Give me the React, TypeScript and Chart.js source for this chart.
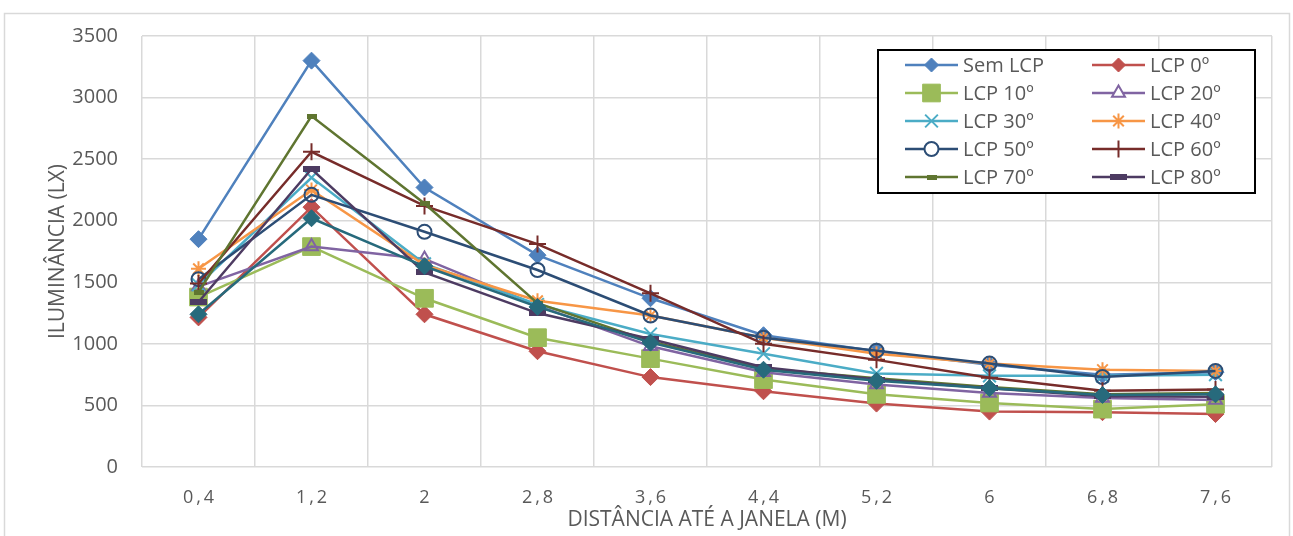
import React, { useEffect, useRef } from "react";
import { Chart, registerables } from "chart.js";
import { drawPoint } from "chart.js/helpers";

Chart.register(...registerables);

const categories = ["0,4", "1,2", "2", "2,8", "3,6", "4,4", "5,2", "6", "6,8", "7,6"];

const semLCP = [1850, 3300, 2270, 1720, 1370, 1070, 940, 830, 750, 770];
const lcp0 = [1215, 2110, 1240, 940, 730, 615, 515, 450, 445, 430];
const lcp10 = [1380, 1790, 1370, 1050, 880, 710, 590, 520, 470, 510];
const lcp20 = [1465, 1790, 1690, 1310, 980, 770, 670, 600, 560, 545];
const lcp30 = [1480, 2350, 1650, 1320, 1080, 920, 760, 740, 740, 750];
const lcp40 = [1610, 2250, 1640, 1350, 1230, 1050, 920, 840, 790, 780];
const lcp50 = [1525, 2210, 1910, 1600, 1230, 1050, 945, 840, 730, 780];
const lcp60 = [1490, 2560, 2120, 1810, 1410, 1000, 870, 725, 620, 630];
const lcp70 = [1420, 2850, 2140, 1330, 1020, 800, 720, 650, 590, 600];
const lcp80 = [1340, 2420, 1580, 1250, 1040, 810, 710, 640, 575, 570];
const lcp90 = [1240, 2020, 1630, 1300, 1010, 790, 700, 640, 585, 590];

const yTitle = "ILUMINÂNCIA (LX)";
const xTitle = "DISTÂNCIA ATÉ A JANELA (M)";
const FONT = "'Open Sans', sans-serif";
const TEXT = "#595959";
const GRID = "#D9D9D9";

function makeBar(w: number, h: number, color: string) {
  const c = document.createElement("canvas");
  c.width = w;
  c.height = h;
  const g = c.getContext("2d")!;
  g.fillStyle = color;
  g.fillRect(0, 0, w, h);
  return c;
}

const framePlugin = {
  id: "frame",
  beforeDraw(chart: any) {
    const ctx = chart.ctx;
    ctx.save();
    ctx.fillStyle = "#FFFFFF";
    ctx.fillRect(0, 0, chart.width, chart.height);
    ctx.strokeStyle = GRID;
    ctx.lineWidth = 1.5;
    ctx.strokeRect(4.5, 13.5, chart.width - 8, chart.height + 40);
    ctx.restore();
  },
};

const boxLegendPlugin = {
  id: "boxLegend",
  afterDraw(chart: any) {
    const ctx = chart.ctx;
    const area = chart.chartArea;
    const right = area.right - 17;
    const top = area.top + 14;
    const width = 377;
    const height = 143;
    const left = right - width;
    ctx.save();
    ctx.fillStyle = "#FFFFFF";
    ctx.fillRect(left, top, width, height);
    ctx.strokeStyle = "#000000";
    ctx.lineWidth = 2;
    ctx.strokeRect(left, top, width, height);
    const items = chart.data.datasets.filter((d: any) => d.inLegend);
    items.forEach((d: any, i: number) => {
      const col = i % 2;
      const row = Math.floor(i / 2);
      const lx0 = left + (col === 0 ? 27 : 214);
      const lx1 = lx0 + 53;
      const y = top + 15 + row * 28;
      ctx.strokeStyle = d.borderColor;
      ctx.lineWidth = 2.5;
      ctx.beginPath();
      ctx.moveTo(lx0, y);
      ctx.lineTo(lx1, y);
      ctx.stroke();
      ctx.fillStyle = d.legendFill || d.pointBackgroundColor;
      ctx.strokeStyle = d.pointBorderColor;
      ctx.lineWidth = d.pointBorderWidth;
      drawPoint(ctx, {
        pointStyle: d.pointStyle,
        rotation: 0,
        radius: d.legendRadius || d.pointRadius,
        borderWidth: d.pointBorderWidth,
      } as any, (lx0 + lx1) / 2, y);
      ctx.fillStyle = TEXT;
      ctx.font = `20px ${FONT}`;
      ctx.textAlign = "left";
      ctx.textBaseline = "middle";
      ctx.fillText(d.label, lx1 + 5, y + 1);
    });
    ctx.restore();
  },
};

export default function App() {
  const ref = useRef<HTMLCanvasElement>(null);

  useEffect(() => {
    const olive = makeBar(10, 5, "#5F7530");
    const purpleBar = makeBar(17, 6, "#4D3B62");

    const spec = [
      { label: "Sem LCP", data: semLCP, color: "#4F81BD", style: "rectRot", r: 8.5, bw: 1, fill: "#4F81BD", legendR: 7 },
      { label: "LCP 0º", data: lcp0, color: "#C0504D", style: "rectRot", r: 8.5, bw: 1, fill: "#C0504D", legendR: 7 },
      { label: "LCP 10º", data: lcp10, color: "#9BBB59", style: "rect", r: 12.5, bw: 1, fill: "#9BBB59" },
      { label: "LCP 20º", data: lcp20, color: "#8064A2", style: "triangle", r: 7.5, bw: 2, fill: "rgba(0,0,0,0)", legendFill: "#FFFFFF" },
      { label: "LCP 30º", data: lcp30, color: "#4BACC6", style: "crossRot", r: 9, bw: 2, fill: "#4BACC6" },
      { label: "LCP 40º", data: lcp40, color: "#F79646", style: "star", r: 7.5, bw: 2, fill: "#F79646" },
      { label: "LCP 50º", data: lcp50, color: "#2C4D75", style: "circle", r: 7, bw: 2, fill: "rgba(0,0,0,0)", legendFill: "#FFFFFF" },
      { label: "LCP 60º", data: lcp60, color: "#772C2A", style: "cross", r: 8.5, bw: 2, fill: "#772C2A" },
      { label: "LCP 70º", data: lcp70, color: "#5F7530", style: olive, r: 5, bw: 0, fill: "#5F7530" },
      { label: "LCP 80º", data: lcp80, color: "#4D3B62", style: purpleBar, r: 6, bw: 0, fill: "#4D3B62" },
      { label: "LCP 90º", data: lcp90, color: "#276A7C", style: "rectRot", r: 8.5, bw: 1, fill: "#276A7C", hideLegend: true },
    ];

    const n = spec.length;
    const datasets = spec.map((s, i) => ({
      label: s.label,
      data: s.data,
      borderColor: s.color,
      backgroundColor: s.color,
      borderWidth: 2.5,
      tension: 0,
      fill: false,
      pointStyle: s.style as any,
      pointRadius: s.r,
      pointHoverRadius: s.r,
      pointBorderWidth: s.bw,
      pointBorderColor: s.color,
      pointBackgroundColor: s.fill,
      legendFill: (s as any).legendFill,
      legendRadius: (s as any).legendR,
      inLegend: !(s as any).hideLegend,
      order: n - i,
    }));

    const chart = new Chart(ref.current!, {
      type: "line",
      data: { labels: categories, datasets: datasets as any },
      options: {
        responsive: false,
        animation: false,
        devicePixelRatio: 1,
        layout: { padding: { left: 0, top: 36, right: 21, bottom: 0 } },
        plugins: {
          legend: { display: false },
          tooltip: { enabled: false },
        },
        scales: {
          x: {
            type: "category",
            offset: true,
            grid: { offset: true, color: GRID, lineWidth: 1.5, drawTicks: false },
            border: { display: false },
            ticks: {
              font: { family: FONT, size: 18 },
              color: TEXT,
              padding: 20,
              maxRotation: 0,
              autoSkip: false,
              callback: (_v: any, i: number) => categories[i].split("").join("\u2009"),
            },
            title: {
              display: true,
              text: xTitle,
              color: TEXT,
              font: { family: FONT, size: 21 },
              padding: { top: 0, bottom: 3 },
            },
            afterFit: (s: any) => {
              s.height = 69;
            },
          },
          y: {
            min: 0,
            max: 3500,
            grid: { color: GRID, lineWidth: 1.5, drawTicks: false },
            border: { display: false },
            ticks: {
              stepSize: 500,
              font: { family: FONT, size: 20 },
              color: TEXT,
              padding: 24,
              callback: (v: any) => String(v),
            },
            title: {
              display: true,
              text: yTitle,
              color: TEXT,
              font: { family: FONT, size: 21 },
              padding: { top: 45, bottom: 0 },
            },
            afterFit: (s: any) => {
              s.width = 142;
            },
          },
        },
      },
      plugins: [framePlugin, boxLegendPlugin],
    });
    return () => chart.destroy();
  }, []);

  return (
    <div style={{ position: "absolute", left: 0, top: 0, width: 1293, height: 536, background: "#fff" }}>
      <canvas ref={ref} width={1293} height={536} style={{ display: "block" }} />
    </div>
  );
}
